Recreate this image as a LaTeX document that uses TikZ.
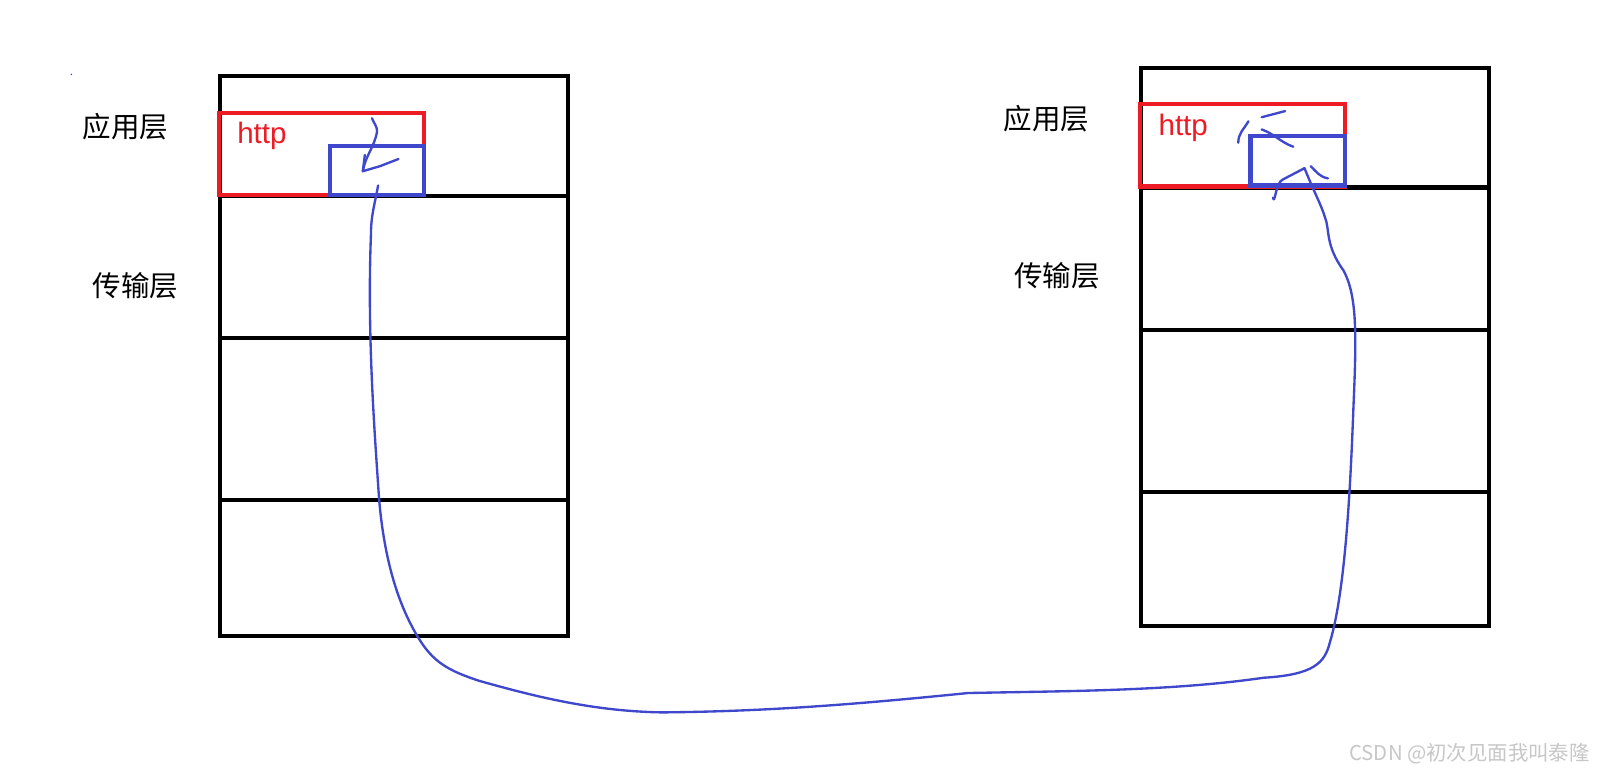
\documentclass[tikz,border=0pt]{standalone}
\usepackage{fontspec}
\newfontfamily\cjk{Noto Sans CJK SC}
\setmainfont{Liberation Sans}
\definecolor{penred}{RGB}{237,28,36}
\definecolor{penblue}{RGB}{63,72,204}
\begin{document}
\begin{tikzpicture}[x=1pt,y=-1pt,
  layer/.style={draw=black,line width=4pt},
  redbox/.style={draw=penred,line width=4pt},
  bluebox/.style={draw=penblue,line width=4pt},
  pen/.style={draw=penblue,line width=2.3pt,line cap=round,line join=round},
  lbl/.style={font=\cjk\fontsize{28}{32}\selectfont,inner sep=0pt},
  httpl/.style={font=\fontsize{29}{32}\selectfont,text=penred,inner sep=0pt}]
\useasboundingbox[fill=white] (0,0) rectangle (1568,766);
% left stack
\draw[layer] (216,75) rectangle (557,624);
\draw[layer] (216,192) -- (557,192) (216,332) -- (557,332) (216,491) -- (557,491);
\draw[redbox] (215,111) rectangle (416,191);
\draw[bluebox] (324,143) rectangle (416,191);
\node[lbl] (a1) at (123,124) {应用层};
\node[lbl] (t1) at (133,280) {传输层};
\node[httpl] (h1) at (257,133) {http};
% right stack
\draw[layer] (1120,67) rectangle (1461,614);
\draw[layer] (1120,184) -- (1461,184) (1120,324) -- (1461,324) (1120,483) -- (1461,483);
\draw[redbox] (1119,102) rectangle (1320,183);
\draw[bluebox] (1227,133) rectangle (1320,182);
\node[lbl] (a2) at (1027,116) {应用层};
\node[lbl] (t2) at (1037,271) {传输层};
\node[httpl] (h2) at (1161,125) {http};
% hand strokes left
\draw[pen] (365,116) to[out=-70,in=90] (370,129) to[out=-100,in=80] (356,168);
\draw[pen] (391,156) -- (373,163) -- (356,168) -- (358,152);
% long curve
\draw[pen] (371,182) to[out=-100,in=90] (364,230) .. controls (360,330) and (368,430) .. (372,490)
  .. controls (378,560) and (395,600) .. (410,625)
  .. controls (425,650) and (440,658) .. (470,668)
  .. controls (520,682) and (580,698) .. (650,699)
  .. controls (760,698) and (850,690) .. (950,680)
  .. controls (1050,678) and (1150,678) .. (1240,665)
  .. controls (1290,662) and (1300,650) .. (1305,630)
  .. controls (1320,580) and (1325,480) .. (1328,400)
  .. controls (1331,330) and (1332,290) .. (1318,265)
  .. controls (1300,240) and (1305,225) .. (1300,213)
  .. controls (1296,200) and (1290,190) .. (1280,165);
\draw[pen] (1249,194) to[out=-75,in=-160] (1259,176) -- (1280,165);
\draw[pen] (1286,163) to[out=-45,in=170] (1303,175);
\draw[pen] (1261,109) -- (1238,115);
\draw[pen] (1238,127) to[out=-20,in=160] (1269,144);
\draw[pen] (1225,119) to[out=-120,in=90] (1215,140);
\fill[penblue] (70,73) circle (0.8);
\node[font=\cjk\fontsize{20}{22}\selectfont,text=black!22,anchor=east,inner sep=0pt] (wm) at (1560,740) {CSDN @初次见面我叫泰隆};
\end{tikzpicture}
\end{document}
